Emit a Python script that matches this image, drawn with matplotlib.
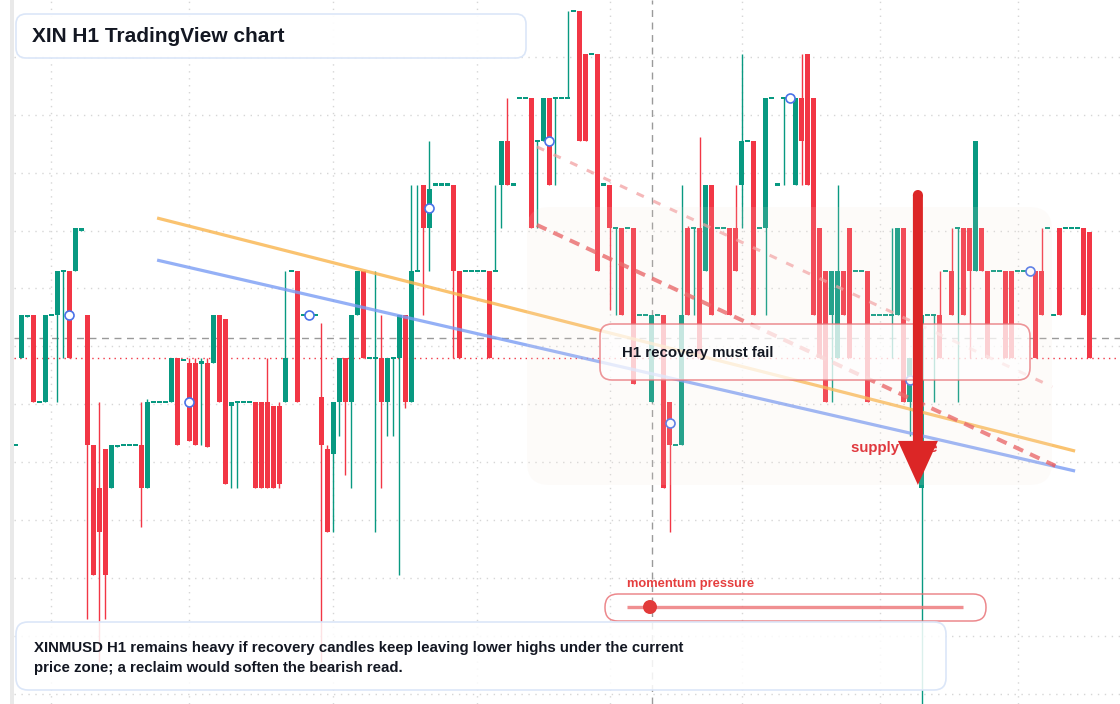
import numpy as np
import matplotlib
matplotlib.use("Agg")
import matplotlib.pyplot as plt
from matplotlib.patches import FancyBboxPatch, Rectangle, Circle, FancyArrow

plt.rcParams["font.family"] = ["Liberation Sans", "DejaVu Sans"]

# --- H1 candles (price in tick levels) ---
opens = [5, 7, 7.95, 8, 6, 6, 8, 8, 9, 9, 9, 9.92, 8, 5, 4, 4.9, 4, 4.95, 5, 5,
         5, 5, 4, 6, 6, 6, 6, 7, 6.95, 6.9, 6.9, 6.9, 6.9, 6.9, 8, 7.9, 5.9, 6, 6, 6,
         6, 6, 6, 5.9, 5.9, 6, 9, 9, 8, 8, 8, 6.1, 4.9, 4.8, 6, 7, 6, 8, 9, 7,
         7, 7, 6, 7, 7, 8, 6, 9, 11, 10, 11, 11, 11, 11, 9, 9, 9, 9, 9, 9,
         9, 11, 12, 11, 13, 13, 13, 12, 12, 13, 13, 13, 13, 15, 15, 14, 14, 14, 11, 11,
         10, 10, 10, 10, 8, 8, 6, 8, 8, 6, 5, 5, 10, 10, 10, 9, 11, 10, 10, 10,
         10, 11, 12, 12, 10, 10, 13, 11, 13, 13, 11, 13, 14, 13, 10, 9, 8, 7, 9, 10,
         9, 9, 9, 8, 8, 8, 8, 8, 10, 6, 7, 4, 8, 8, 8, 9, 9, 10, 10, 10,
         9, 10, 9, 9, 9, 9, 9, 9, 9, 9, 9, 9, 10, 8, 10, 10, 10, 10, 10, 9.9]
highs = [5, 8, 8, 8, 6, 8, 8, 9, 9, 9, 10, 10, 8, 5, 6, 4.9, 5, 5, 5, 5,
         5, 6, 6.07, 6, 6, 6, 7, 7, 6.95, 7, 7, 7, 7, 8, 8, 7.9, 6, 6, 6, 6,
         6, 6, 7, 5.9, 6, 9, 9, 9, 8, 8, 8, 7.8, 5, 6, 7, 7, 8, 9, 9, 7,
         9, 8, 7, 7, 8, 8, 11, 11, 11, 12, 11, 11, 11, 11, 9, 9, 9, 9, 9, 9,
         11, 12, 13, 11, 13, 13, 13, 12, 13, 13, 13, 13, 15, 15, 15, 14, 14, 14, 11, 11,
         10, 10, 10, 10, 8, 8, 8, 8, 8, 6, 5, 11, 10.05, 10, 12.1, 11, 11, 10, 10, 10,
         11, 14, 12, 12, 10, 13, 13, 11, 13, 13, 13, 14, 14, 13, 10, 9, 9, 11, 9, 10,
         9, 9, 9, 8, 8, 8, 10, 10, 10, 7, 7, 8, 8, 8, 9, 9, 10, 10, 10, 10,
         12, 10, 9, 9, 9, 9, 9, 9, 9, 9, 9, 10, 10, 8, 10, 10, 10, 10, 10, 9.9]
lows = [5, 7, 7.95, 6, 6, 6, 8, 6, 7, 7, 9, 9.92, 1, 2, 0, 1, 4, 4.95, 5, 5,
        5, 3.1, 4, 6, 6, 6, 6, 5, 6.95, 5.1, 5, 5, 4.95, 6.9, 6, 4.1, 4, 4, 6, 6,
        4, 4, 4, 4, 4, 6, 9, 6, 8, 8, 8, 0, 3, 3, 5.2, 4.3, 4, 8, 7, 7,
        3, 4, 5.2, 5.2, 2, 5.85, 6, 9, 8, 9, 11, 11, 11, 7, 7, 9, 9, 9, 9, 7,
        9, 10, 11, 11, 13, 13, 10, 10, 12, 11, 11, 13, 13, 15, 12, 12, 14, 9, 11, 8.1,
        8, 8, 10, 6.4, 8, 8, 6, 8, 4, 3, 5, 5, 8, 8, 7, 9, 8, 10, 10, 8,
        9, 10, 12, 8, 10, 8, 13, 11, 11, 13, 11, 11, 11, 8, 7, 6, 6, 7, 8, 7,
        9, 9, 6, 8, 8, 8, 7, 8, 6, 5.2, 7, -1, 8, 6, 7, 9, 8, 6, 8, 7,
        9, 9, 7, 9, 9, 7, 7, 9, 9, 9, 7, 8, 10, 8, 8, 10, 10, 10, 8, 7]
closes = [5, 8, 8, 6, 6, 8, 8, 9, 9, 7, 10, 10, 5, 2, 3, 2, 5, 5, 5, 5,
          5, 4, 6, 6, 6, 6, 7, 5, 6.95, 5.1, 5, 6.9, 4.95, 8, 6, 4.1, 6, 6, 6, 6,
          4, 4, 4, 4, 4.1, 7, 9, 6, 8, 8, 8, 5, 3, 6, 7, 6, 8, 9, 7, 7,
          7, 6, 7, 7, 8, 6, 9, 9, 10, 10.9, 11, 11, 11, 9, 7, 9, 9, 9, 9, 7,
          9, 12, 11, 11, 13, 13, 10, 12, 13, 11, 13, 13, 13, 15, 12, 12, 14, 9, 11, 10,
          10, 8, 10, 6.4, 8, 8, 8, 8, 4, 5, 5, 8, 8, 10, 7, 11, 8, 10, 10, 8,
          9, 12, 12, 8, 10, 13, 13, 11, 13, 13, 13, 12, 11, 8, 7, 6, 9, 9, 8, 7,
          9, 9, 6, 8, 8, 8, 8, 10, 6, 7, 7, 8, 8, 8, 7, 9, 8, 10, 8, 9,
          12, 9, 7, 9, 9, 7, 7, 9, 9, 9, 7, 8, 10, 8, 8, 10, 10, 10, 8, 7]

# overlays (candle index, price)
orange_line = ([23.6, 176.6], [10.23, 4.86])
blue_line = ([23.6, 176.6], [9.26, 4.40])
red_dash = ([86.9, 173.3], [10.07, 4.52])
pink_dash = ([86.9, 172.8], [11.87, 6.34])
crosshair_i, crosshair_p = 106, 7.47
arrow_i, arrow_top, arrow_tip = 150.4, 10.76, 4.08
vgrid_i = [6, 29, 53, 77, 99, 121, 144, 167]

GREEN = "#089981"
RED = "#f23645"
DARK = "#131722"

o = np.array(opens)
h = np.array(highs)
l = np.array(lows)
c = np.array(closes)
x = np.arange(len(o))
up = c >= o
colors = np.where(up, GREEN, RED)

fig = plt.figure(figsize=(11.2, 7.04), dpi=100)
ax = fig.add_axes([0, 0, 1, 1])
ax.set_xlim(-2.583, 184.083)
ax.set_ylim(-0.968, 15.253)
ax.axis("off")

# grid
hgrid_p = np.arange(13.94, -1.0, -4 / 3)
ax.hlines(hgrid_p, -0.25, 184.1, color="#d6d6d6", lw=1, ls=(0, (1, 4)), zorder=0)
ax.vlines(vgrid_i, -0.968, 15.253, color="#d6d6d6", lw=1, ls=(0, (1, 4)), zorder=0)

# crosshair and last price line
ax.vlines(crosshair_i, -0.968, 15.253, color="#9a9a9a", lw=1, ls=(0, (5, 4)), zorder=1)
ax.hlines(crosshair_p, -0.25, 184.1, color="#9a9a9a", lw=1, ls=(0, (5, 4)), zorder=1)
ax.hlines(c[-1], -0.25, 184.1, color=RED, lw=1, ls=(0, (1, 3)), zorder=1)

# candles
ax.vlines(x, l, h, color=colors, lw=1, zorder=2)
body_h = np.maximum(np.abs(c - o), 0.05)
body_b = np.where(np.abs(c - o) < 0.05, (o + c) / 2 - 0.025, np.minimum(o, c))
ax.bar(x, body_h, bottom=body_b, width=5 / 6, color=colors, linewidth=0, zorder=3)

# trend lines
ax.plot(*orange_line, color="#f9b44c", lw=2.3, alpha=0.8, solid_capstyle="butt", zorder=4)
ax.plot(*blue_line, color="#7a9cf4", lw=2.3, alpha=0.8, solid_capstyle="butt", zorder=4)
ax.plot(*red_dash, color="#e8585c", lw=2.9, alpha=0.8, ls=(0, (2.6, 1.9)), zorder=4)
ax.plot(*pink_dash, color="#f29a9c", lw=2.2, alpha=0.7, ls=(0, (2.6, 3.4)), zorder=4)

# markers on every 20th candle
mi = np.arange(9, len(o), 20)
ax.scatter(mi, (o[mi] + c[mi]) / 2, s=42, facecolor="white", edgecolor="#4a72e8",
           linewidth=1.2, zorder=5)

# --- pixel overlay for annotations ---
ov = fig.add_axes([0, 0, 1, 1])
ov.set_xlim(0, 1120)
ov.set_ylim(704, 0)
ov.axis("off")
ov.patch.set_alpha(0)


def to_px(xi, p):
    return ov.transData.inverted().transform(ax.transData.transform((xi, p)))


def rbox(x0, y0, w, hh, r, fc, ec, alpha_fc=1.0, lw=1.2, z=1):
    box = FancyBboxPatch((x0, y0), w, hh, boxstyle=f"round,pad=0,rounding_size={r}",
                         facecolor=matplotlib.colors.to_rgba(fc, alpha_fc),
                         edgecolor=ec, lw=lw, zorder=z)
    ov.add_patch(box)


# left frame strip
ov.add_patch(Rectangle((9.5, 0), 4, 704, facecolor="#e9e9e9", edgecolor="none", zorder=1))

# supply zone
rbox(527, 207, 525, 278, 22, "#f5e6d8", "none", alpha_fc=0.13, lw=0, z=1)

# recovery box
rbox(600, 324, 430, 56, 12, "white", (0.91, 0.45, 0.47, 0.75), alpha_fc=0.74, lw=1.2, z=2)
ov.text(622, 353, "H1 recovery must fail", fontsize=10.8, fontweight="bold",
        color=DARK, va="center", zorder=3)

ov.text(851, 448, "supply zone", fontsize=10.8, fontweight="bold", color="#e0383e",
        va="center", zorder=3)

# big red arrow
ax_px, top_px = to_px(arrow_i, arrow_top)
_, tip_px = to_px(arrow_i, arrow_tip)
ov.add_patch(FancyArrow(ax_px, top_px, 0, tip_px - top_px, width=10, head_width=40,
                        head_length=44, length_includes_head=True,
                        color="#dc2626", lw=0, zorder=5))
ov.add_patch(Circle((ax_px, top_px), 5, color="#dc2626", lw=0, zorder=5))

# momentum widget
ov.text(627, 584, "momentum pressure", fontsize=9.3, fontweight="bold",
        color="#e53e3e", va="center", zorder=3)
rbox(605, 594, 381, 27, 13, "white", (0.91, 0.42, 0.44, 0.8), alpha_fc=0.0, lw=1.1, z=2)
ov.plot([627, 963], [607, 607], color="#ee7b7e", lw=2.4, alpha=0.85,
        solid_capstyle="butt", zorder=3)
ov.add_patch(Circle((650, 607), 7, color="#e23a3a", lw=0, zorder=4))

# title box
rbox(16, 14, 510, 44, 10, "white", "#dbe6f8", alpha_fc=0.95, lw=1.2, z=2)
ov.text(32, 37, "XIN H1 TradingView chart", fontsize=15, fontweight="bold",
        color=DARK, va="center", zorder=3)

# bottom note box
rbox(16, 622, 930, 68, 12, "white", "#dbe6f8", alpha_fc=0.86, lw=1.2, z=2)
ov.text(34, 658,
        "XINMUSD H1 remains heavy if recovery candles keep leaving lower highs under the current\n"
        "price zone; a reclaim would soften the bearish read.",
        fontsize=10.8, fontweight="bold", color=DARK, va="center", linespacing=1.5, zorder=3)

fig.savefig("out.png", dpi=100)
